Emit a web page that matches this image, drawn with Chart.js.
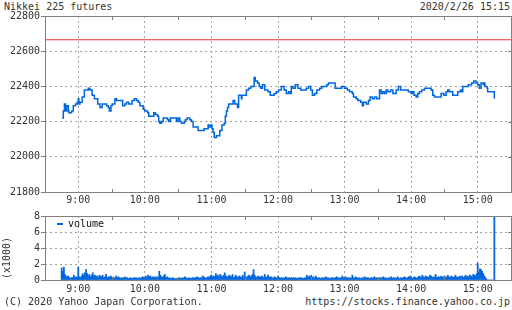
<!DOCTYPE html>
<html>
<head>
<meta charset="utf-8">
<script src="https://cdn.jsdelivr.net/npm/chart.js@4.4.1/dist/chart.umd.min.js"></script>
<style>
  body { margin: 0; width: 512px; height: 310px; position: relative; overflow: hidden; background: #fff;
         font-family: "DejaVu Sans Mono", monospace; font-size: 10px; color: #333; }
  .t { position: absolute; line-height: 12px; white-space: nowrap; }
  canvas { position: absolute; left: 0; }
</style>
</head>
<body>
<div class="t" style="left:4px;top:1px">Nikkei 225 futures</div>
<div class="t" style="right:2px;top:1px">2020/2/26 15:15</div>
<canvas id="priceChart" width="512" height="206" style="top:0"></canvas>
<canvas id="volChart" width="512" height="90" style="top:206px"></canvas>
<div style="position:absolute;left:57px;top:223px;width:6px;height:2px;background:#0066dd"></div>
<div class="t" style="left:68px;top:218px;color:#111">volume</div>
<div class="t" style="left:-18px;top:252px;width:50px;text-align:center;transform:rotate(-90deg)">(x1000)</div>
<div class="t" style="left:4px;top:296px">(C) 2020 Yahoo Japan Corporation.</div>
<div class="t" style="right:2px;top:296px">https://stocks.finance.yahoo.co.jp</div>
<script>
// x values are minutes after 8:30
var hourTicks = [30, 90, 150, 210, 270, 330, 390];
var hourLabels = ['9:00', '10:00', '11:00', '12:00', '13:00', '14:00', '15:00'];
var halfHours = [60, 120, 180, 240, 300, 360];
var prevClose = 22665;

// price changes: time of change and new price
var priceMin = [
  15.5, 16.5, 17.5, 18.5, 19.5, 21, 21.5, 24, 25.5, 27.5,
  29, 30, 30.5, 31.5, 33.5, 35.5, 39, 40.5, 42.5, 44.5,
  47.5, 49.5, 51.5, 55.5, 57, 58, 59.5, 60.5, 63, 64.5,
  70, 72, 73.5, 75.5, 78.5, 80.5, 82.5, 84, 85.5, 88.5,
  90, 92.5, 93.5, 98, 99.5, 101.5, 102.5, 103.5, 105, 106.5,
  110.5, 111.5, 113, 118.5, 120, 121.5, 123, 125.5, 126.5, 128,
  130.5, 132, 133.5, 138, 143.5, 147, 148, 149.5, 150.5, 151.5,
  152.5, 154.5, 157.5, 159.5, 161.5, 162.5, 163.5, 164.5, 165.5, 169.5,
  171, 173.5, 174.5, 177, 177.5, 181.5, 183.5, 185.5, 188.5, 189.5,
  191.5, 193, 194.5, 196, 198, 201, 203, 206.5, 208.5, 210.5,
  213, 215.5, 217.5, 219.5, 221, 222, 223.5, 225.5, 228, 230.5,
  235.5, 237.5, 239.5, 241, 243, 245, 247.5, 249.5, 254, 255.5,
  261.5, 267.5, 270, 272.5, 274.5, 277, 278, 280.5, 282, 284.5,
  286, 287, 289.5, 291.5, 293, 295, 297, 299, 301.5, 303,
  304.5, 306, 307.5, 309, 311.5, 313.5, 316.5, 318.5, 320.5, 327.5,
  330, 331, 332.5, 334.5, 336, 337.5, 339.5, 342, 348, 349.5,
  351, 357, 359.5, 361.5, 363, 364.5, 367.5, 372, 374.5, 375.5,
  376.5, 381.5, 384.5, 386.5, 388.5, 390, 391.5, 393, 395, 396,
  396.5, 398.5, 399, 405
];
var priceVal = [
  22220, 22260, 22300, 22260, 22290, 22260, 22250, 22260, 22290, 22300,
  22310, 22330, 22300, 22310, 22340, 22380, 22390, 22380, 22350, 22330,
  22300, 22280, 22300, 22290, 22280, 22260, 22290, 22300, 22330, 22320,
  22290, 22300, 22310, 22300, 22320, 22330, 22320, 22310, 22290, 22270,
  22260, 22250, 22230, 22250, 22240, 22230, 22200, 22190, 22200, 22220,
  22210, 22200, 22220, 22200, 22220, 22200, 22190, 22200, 22210, 22220,
  22210, 22200, 22170, 22150, 22160, 22180, 22170, 22180, 22160, 22140,
  22110, 22120, 22150, 22180, 22190, 22230, 22260, 22280, 22300, 22320,
  22300, 22280, 22350, 22330, 22350, 22380, 22390, 22400, 22450, 22430,
  22420, 22400, 22390, 22410, 22380, 22370, 22350, 22360, 22370, 22380,
  22400, 22380, 22360, 22370, 22360, 22400, 22390, 22410, 22390, 22380,
  22390, 22400, 22380, 22350, 22360, 22380, 22390, 22400, 22410, 22420,
  22390, 22400, 22390, 22380, 22370, 22360, 22340, 22330, 22320, 22310,
  22290, 22310, 22300, 22320, 22340, 22330, 22340, 22330, 22380, 22360,
  22370, 22360, 22380, 22370, 22380, 22360, 22380, 22400, 22380, 22370,
  22360, 22370, 22350, 22340, 22360, 22370, 22380, 22390, 22380, 22350,
  22340, 22360, 22350, 22370, 22380, 22370, 22350, 22370, 22380, 22370,
  22400, 22410, 22420, 22430, 22420, 22410, 22390, 22420, 22410, 22420,
  22400, 22390, 22370, 22330
];

// volume per minute (x1000), 8:45 .. 15:15
var volStart = 15;
var volume = [
  1.5,1.1,1.6,0.7,0.5,0.4,0.5,0.3,0.2,0.3, 0.3,0.6,0.3,0.4,0.3,1.6,0.4,0.3,0.5,0.8, 0.6,0.9,1.3,0.8,0.5,0.7,0.4,0.6,0.9,0.5,
  0.6,0.4,0.5,0.3,0.6,0.5,0.4,0.6,0.3,0.4, 0.7,0.3,0.4,0.3,0.5,0.4,0.2,0.3,0.2,0.5, 0.3,0.4,0.3,0.2,0.3,0.2,0.3,0.4,0.2,0.3,
  0.2,0.2,0.3,0.2,0.2,0.3,0.2,0.3,0.2,0.2, 0.3,0.2,0.3,0.4,0.3,0.2,0.5,0.3,0.6,0.4, 0.5,0.3,0.4,0.3,0.4,0.3,0.4,0.3,1.1,0.6,
  0.4,0.3,0.5,0.7,0.3,0.4,0.2,0.3,0.2,0.2, 0.3,0.2,0.2,0.1,0.2,0.2,0.3,0.2,0.2,0.3, 0.2,0.4,0.3,0.2,0.2,0.3,0.2,0.2,0.3,0.2,
  0.3,0.2,0.4,0.3,0.2,0.3,0.2,0.5,0.4,0.3, 0.2,0.3,0.4,0.3,0.5,0.6,0.4,0.5,0.4,0.8, 0.5,0.6,0.4,0.7,0.5,0.4,0.6,0.9,0.5,0.4,
  0.4,0.6,0.5,0.4,0.7,0.3,0.4,0.6,0.4,0.3, 0.5,0.4,0.3,0.6,0.4,1.0,0.4,0.3,0.5,0.6, 0.4,0.5,0.7,1.3,0.6,0.4,0.3,0.5,0.4,0.3,
  0.5,0.4,0.3,0.7,0.4,0.3,0.6,0.4,0.3,0.4, 0.2,0.3,0.4,0.3,0.2,0.5,0.3,0.2,0.3,0.2, 0.3,0.2,0.4,0.3,0.2,0.3,0.2,0.3,0.2,0.3,
  0.2,0.3,0.2,0.2,0.3,0.2,0.3,0.2,0.2,0.3, 0.2,0.6,0.3,0.5,0.4,0.6,0.3,0.4,0.2,0.5, 0.3,0.2,0.3,0.2,0.2,0.3,0.2,0.3,0.4,0.2,
  0.3,0.2,0.2,0.3,0.2,0.3,0.2,0.3,0.4,0.2, 0.3,0.2,0.3,0.5,0.3,0.2,0.4,0.2,0.3,0.2, 0.3,0.2,0.6,0.3,0.2,0.4,0.3,0.2,0.3,0.2,
  0.2,0.3,0.2,0.4,0.3,0.2,0.3,0.2,0.2,0.3, 0.2,0.3,0.4,0.2,0.3,0.2,0.2,0.3,0.2,0.3, 0.4,0.2,0.3,0.2,0.2,0.3,0.2,0.4,0.2,0.3,
  0.2,0.3,0.2,0.4,0.2,0.2,0.3,0.2,0.3,0.4, 0.3,0.2,0.3,0.4,0.5,0.3,0.2,0.3,0.4,0.3, 0.2,0.3,0.5,0.4,0.3,0.6,0.4,0.3,0.5,0.4,
  0.4,0.3,0.6,0.5,0.3,0.4,0.3,0.7,0.4,0.3, 0.4,0.3,0.5,0.4,0.3,0.5,0.4,0.3,0.6,0.4, 0.3,0.5,0.4,0.3,0.4,0.6,0.3,0.4,0.3,0.5,
  0.4,0.5,0.3,0.4,0.6,0.4,0.5,0.4,0.6,0.5, 0.4,0.7,0.6,0.5,0.8,2.1,1.0,1.4,1.3,1.1, 0.8,0.5,0.3,0.1,0,0,0,0,0,0,
  8
];

var blue = '#0066dd';
var gridGray = '#a0a0a0';
var boxGray = '#808080';

Chart.defaults.font.family = '"DejaVu Sans Mono", monospace';
Chart.defaults.font.size = 10;
Chart.defaults.color = '#333';

// solid frame round the plot, with small half-hour and right-side ticks
var frame = {
  id: 'frame',
  afterDatasetsDraw: function (chart) {
    var ctx = chart.ctx, a = chart.chartArea, x = chart.scales.x, y = chart.scales.y;
    ctx.save();
    ctx.strokeStyle = boxGray;
    ctx.lineWidth = 1;
    ctx.setLineDash([]);
    ctx.strokeRect(a.left + 0.5, a.top + 0.5, a.right - a.left, a.bottom - a.top);
    ctx.beginPath();
    halfHours.forEach(function (m) {
      var px = Math.round(x.getPixelForValue(m)) + 0.5;
      ctx.moveTo(px, a.top); ctx.lineTo(px, a.top + 4);
      ctx.moveTo(px, a.bottom + 1); ctx.lineTo(px, a.bottom - 3);
    });
    y.ticks.forEach(function (t) {
      var py = Math.round(y.getPixelForValue(t.value)) + 0.5;
      ctx.moveTo(a.right + 1, py); ctx.lineTo(a.right - 3, py);
    });
    ctx.stroke();
    ctx.restore();
  }
};

function xAxis(labelPad, height) {
  return {
    type: 'linear', min: 0, max: 420, offset: false,
    afterBuildTicks: function (s) { s.ticks = hourTicks.map(function (v) { return { value: v }; }); },
    afterFit: function (s) { s.height = height; },
    ticks: { autoSkip: false, maxRotation: 0, padding: labelPad,
              callback: function (v, i) { return hourLabels[i]; } },
    grid: { offset: false, color: gridGray, drawTicks: false },
    border: { display: false, dash: [2, 3] }
  };
}

function yAxis(min, max, step) {
  return {
    min: min, max: max,
    afterFit: function (s) { s.width = 45; },
    ticks: { stepSize: step, padding: 1, callback: function (v) { return String(v); } },
    grid: { color: gridGray, drawTicks: true, tickLength: 4, tickColor: boxGray, tickBorderDash: [] },
    border: { display: false, dash: [2, 3] }
  };
}

var pricePoints = priceMin.map(function (m, i) { return { x: m, y: priceVal[i] }; });

new Chart(document.getElementById('priceChart'), {
  type: 'line',
  data: {
    datasets: [{
      data: [{ x: 0, y: prevClose }, { x: 420, y: prevClose }],
      borderColor: '#e03030', borderWidth: 1, pointRadius: 0
    }, {
      data: pricePoints,
      stepped: true,
      borderColor: blue, borderWidth: 1.5, pointRadius: 0
    }]
  },
  options: {
    responsive: false,
    animation: false,
    events: [],
    layout: { autoPadding: false, padding: { top: 16, right: 1, left: 0, bottom: 0 } },
    plugins: { legend: { display: false }, tooltip: { enabled: false } },
    scales: { x: xAxis(2, 14), y: yAxis(21800, 22800, 200) }
  },
  plugins: [frame]
});

var volPoints = volume.map(function (v, i) { return { x: volStart + i, y: v }; });

new Chart(document.getElementById('volChart'), {
  type: 'bar',
  data: {
    datasets: [{
      data: volPoints,
      backgroundColor: blue,
      barPercentage: 1,
      categoryPercentage: 1
    }]
  },
  options: {
    responsive: false,
    animation: false,
    events: [],
    layout: { autoPadding: false, padding: { top: 10, right: 1, left: 0, bottom: 0 } },
    plugins: { legend: { display: false }, tooltip: { enabled: false } },
    scales: { x: xAxis(3, 16), y: yAxis(0, 8, 2) }
  },
  plugins: [frame]
});
</script>
</body>
</html>
